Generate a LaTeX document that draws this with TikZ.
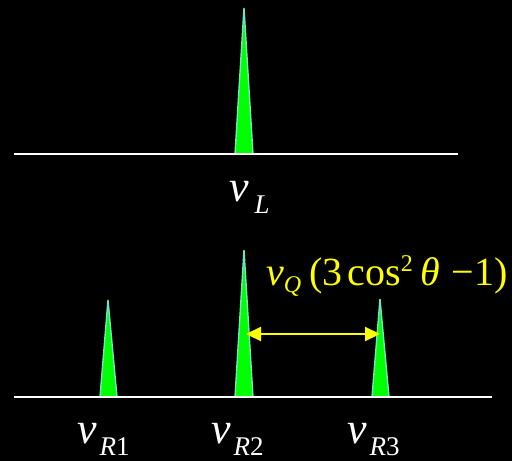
\documentclass[tikz,border=0pt]{standalone}
\usepackage{fontspec}
\setmainfont{Liberation Serif}
\usetikzlibrary{arrows.meta,positioning}
\definecolor{peakgreen}{RGB}{0,255,0}
\definecolor{peakedge}{RGB}{110,230,190}
\definecolor{lblyellow}{RGB}{255,255,0}
\newcommand{\nusub}[2][3pt]{{\itshape ν}\kern#1\raisebox{-12pt}{\fontsize{27}{27}\selectfont #2}}

\begin{document}
\begin{tikzpicture}[x=1pt,y=-1pt,
    peak/.style={draw=peakedge,line width=1.4pt,fill=peakgreen},
    axis/.style={draw=white,line width=2pt},
    freq/.style={text=white,inner sep=0pt,font=\fontsize{44}{44}\selectfont}]
    % schwarzer Hintergrund legt auch die Ränder fest
    \fill[black] (0,0) rectangle (512,461);
    % oberes Spektrum: eine Linie
    \draw[peak] (235,154) -- (244,8) -- (253,154) -- cycle;
    \draw[axis] (14,154) -- (458,154);
    \node[freq,anchor=base west] (nuL) at (229,201) {\nusub[6pt]{\itshape L}};
    % unteres Spektrum: drei Linien
    \draw[peak] (100,397) -- (108,300) -- (117,397) -- cycle;
    \draw[peak] (235,397) -- (244,250) -- (253,397) -- cycle;
    \draw[peak] (372,397) -- (380,299) -- (389,397) -- cycle;
    \draw[axis] (14,397) -- (492,397);
    \coordinate (left) at (246,334);
    \coordinate (right) at (380,334);
    \draw[lblyellow,line width=2.2pt,{Triangle[width=14pt,length=15pt]}-{Triangle[width=14pt,length=15pt]}] (left) -- (right);
    \node[text=lblyellow,inner sep=0pt,anchor=base west,font=\fontsize{40}{40}\selectfont] (split) at (266,285)
      {{\itshape ν}\raisebox{-7pt}{\fontsize{24}{24}\selectfont\itshape Q}\kern8pt(3\kern5pt cos\raisebox{14pt}{\fontsize{24}{24}\selectfont 2}\kern8pt{\itshape θ}\kern11pt−1)};
    \node[freq,anchor=base west] (nuRa) at (77,443) {\nusub{{\itshape R}1}};
    \node[freq,anchor=base west] (nuRb) at (211,443) {\nusub{{\itshape R}2}};
    \node[freq,anchor=base west] (nuRc) at (347,443) {\nusub{{\itshape R}3}};
\end{tikzpicture}
\end{document}
